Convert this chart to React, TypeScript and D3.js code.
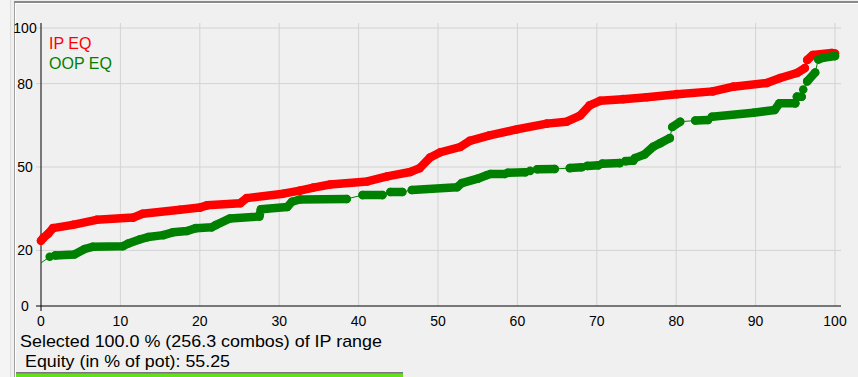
import React from "react";
import * as d3 from "d3";

// ---- data ----
const xTicks = [0, 10, 20, 30, 40, 50, 60, 70, 80, 90, 100];
const yTicks = [0, 20, 50, 80, 100];
const seriesNames = ["IP EQ", "OOP EQ"];

// IP EQ (red): dense marker runs [percentile, equity]
const ipRunA: [number, number][] = [
  [0, 23.5], [0.3, 24.5], [0.9, 26], [1.5, 28], [4.0, 29.2], [7.0, 31.0],
  [11.6, 31.8], [12.8, 33.2], [17.5, 34.6], [20.0, 35.4], [20.9, 36.2],
  [25.1, 37.0], [25.9, 38.8], [30.5, 40.4], [32.6, 41.5], [34.3, 42.6],
  [36.4, 43.7], [41.1, 44.8], [43.6, 46.6], [46.5, 48.2], [47.7, 49.6],
  [49.0, 53.4], [50.3, 55.3], [52.8, 57.2], [54.0, 59.4], [56.5, 61.4],
  [59.9, 63.5], [63.7, 65.6], [66.2, 66.3], [67.9, 68.5], [69.1, 72.2],
  [70.4, 73.8], [73.3, 74.4], [76.3, 75.1], [80.1, 76.2], [84.6, 77.2],
  [87.2, 78.9], [91.4, 80.2], [93.1, 82.0], [95.2, 83.8], [96.2, 85.6],
];
const ipRunB: [number, number][] = [
  [96.5, 88.5], [97.2, 90.3], [99.6, 91.0], [100, 90.8],
];
const ipRuns = [ipRunA, ipRunB];

// OOP EQ (green): line start (no marker) + marker runs
const oopStart: [number, number] = [0, 15.5];
const oopRuns: [number, number][][] = [
  [[1.1, 17.7]],
  [
    [1.8, 18.2], [4.2, 18.5], [5.5, 20.5], [6.5, 21.3], [10.3, 21.5],
    [11.0, 22.5], [12.5, 24.0], [13.5, 24.8], [15.4, 25.5], [16.6, 26.5],
    [18.4, 27.0], [19.5, 28.0], [21.5, 28.3], [22.0, 29.1], [23.8, 31.5],
    [27.5, 32.2], [27.7, 34.8], [31.0, 35.6], [31.6, 37.5], [32.6, 38.3],
    [38.5, 38.5],
  ],
  [[40.5, 39.9], [43.0, 39.9]],
  [[44.0, 41.0], [45.5, 41.0]],
  [[46.7, 41.7], [52.4, 42.7], [53.0, 44.2], [55.0, 45.8], [56.2, 47.1]],
  [[56.6, 47.5], [58.4, 47.5]],
  [[58.8, 47.9], [61.0, 48.1]],
  [[61.6, 48.6]],
  [[62.5, 49.2], [64.7, 49.3]],
  [[66.6, 49.6], [68.1, 49.9]],
  [[68.8, 50.4], [70.2, 50.6]],
  [[70.7, 51.2], [72.9, 51.4]],
  [[73.6, 52.1], [74.6, 52.3]],
  [[74.8, 53.2], [76.0, 54.5], [77.1, 57.3], [78.0, 58.6], [79.2, 60.4]],
  [[79.5, 64.4], [80.5, 66.3]],
  [[82.4, 66.7], [84.0, 66.9]],
  [[84.5, 68.1], [89.7, 69.5], [92.4, 70.5], [93.0, 72.9], [95.0, 72.9]],
  [[95.2, 75.3], [95.8, 75.3]],
  [[96.0, 77.9]],
  [[96.5, 80.8], [97.5, 84.0]],
  [[97.9, 88.7], [98.5, 89.3], [100, 89.9]],
];

const selectedText = "Selected 100.0 % (256.3 combos) of IP range";
const equityText = "Equity (in % of pot): 55.25";

const RED = "#ff0000";
const GREEN = "#008000";
const FONT = "'Liberation Sans', Arial, sans-serif";

export default function App() {
  const W = 858;
  const H = 377;
  const x = d3.scaleLinear().domain([0, 100]).range([41, 835]);
  const y = d3.scaleLinear().domain([0, 100]).range([306, 28]);
  const line = d3
    .line<[number, number]>()
    .x((d) => x(d[0]))
    .y((d) => y(d[1]));

  const ipAll = ipRuns.flat();
  const oopAll = [oopStart, ...oopRuns.flat()];

  const drawRuns = (runs: [number, number][][], color: string, key: string) =>
    runs.map((run, i) => (
      <g key={key + i}>
        {run.length > 1 && (
          <path
            d={line(run) || ""}
            fill="none"
            stroke={color}
            strokeWidth={8.5}
            strokeLinecap="round"
            strokeLinejoin="round"
          />
        )}
        {run.map((p, j) => (
          <circle key={j} cx={x(p[0])} cy={y(p[1])} r={4.3} fill={color} />
        ))}
      </g>
    ));

  return (
    <svg
      width={W}
      height={H}
      style={{ position: "absolute", left: 0, top: 0, background: "#f0f0f0" }}
    >
      <rect x={0} y={0} width={W} height={H} fill="#f0f0f0" />
      {/* frame */}
      <rect x={0} y={0} width={10} height={H} fill="#f4f4f4" />
      <line x1={10.5} y1={0} x2={10.5} y2={H} stroke="#dcdcdc" />
      <line x1={14.5} y1={2} x2={14.5} y2={H} stroke="#a0a0a0" />
      <line x1={15.5} y1={3} x2={15.5} y2={H} stroke="#ffffff" />
      <rect x={14} y={1} width={W - 14} height={2} fill="#8a8a8a" />
      <line x1={15} y1={3.5} x2={W} y2={3.5} stroke="#ffffff" />

      {/* grid */}
      {xTicks
        .filter((t) => t > 0)
        .map((t) => (
          <line
            key={"gx" + t}
            x1={x(t)}
            x2={x(t)}
            y1={23}
            y2={y(0)}
            stroke="#d3d3d3"
          />
        ))}
      {yTicks
        .filter((t) => t > 0)
        .map((t) => (
          <line
            key={"gy" + t}
            x1={36}
            x2={841}
            y1={y(t)}
            y2={y(t)}
            stroke="#d3d3d3"
          />
        ))}

      {/* axes */}
      <line x1={x(0)} x2={x(0)} y1={23} y2={311} stroke="#000" />
      <line x1={36} x2={841} y1={y(0)} y2={y(0)} stroke="#000" />

      {yTicks.map((t) => (
        <text
          key={"ly" + t}
          x={25}
          y={y(t) + 5}
          textAnchor="middle"
          fontFamily={FONT}
          fontSize={14}
          fill="#000"
        >
          {t}
        </text>
      ))}
      {xTicks.map((t) => (
        <text
          key={"lx" + t}
          x={x(t)}
          y={326}
          textAnchor="middle"
          fontFamily={FONT}
          fontSize={14}
          fill="#000"
        >
          {t}
        </text>
      ))}

      {/* thin connecting lines */}
      <path d={line(ipAll) || ""} fill="none" stroke={RED} strokeWidth={1} />
      <path d={line(oopAll) || ""} fill="none" stroke={GREEN} strokeWidth={1} />

      {/* marker runs */}
      {drawRuns(ipRuns, RED, "ip")}
      {drawRuns(oopRuns, GREEN, "oop")}

      {/* legend */}
      <text x={49} y={49} fontFamily={FONT} fontSize={16} fill={RED}>
        {seriesNames[0]}
      </text>
      <text x={49} y={69} fontFamily={FONT} fontSize={16} fill={GREEN}>
        {seriesNames[1]}
      </text>

      {/* bottom info */}
      <text
        x={20}
        y={347}
        fontFamily={FONT}
        fontSize={17}
        textLength={362}
        lengthAdjust="spacingAndGlyphs"
        fill="#000"
      >
        {selectedText}
      </text>
      <text
        x={25}
        y={367}
        fontFamily={FONT}
        fontSize={17}
        textLength={205}
        lengthAdjust="spacingAndGlyphs"
        fill="#000"
      >
        {equityText}
      </text>
      <rect x={16} y={372.5} width={387} height={1} fill="#000" />
      <rect x={16} y={373.5} width={387} height={4} fill="#63e01b" />
    </svg>
  );
}
